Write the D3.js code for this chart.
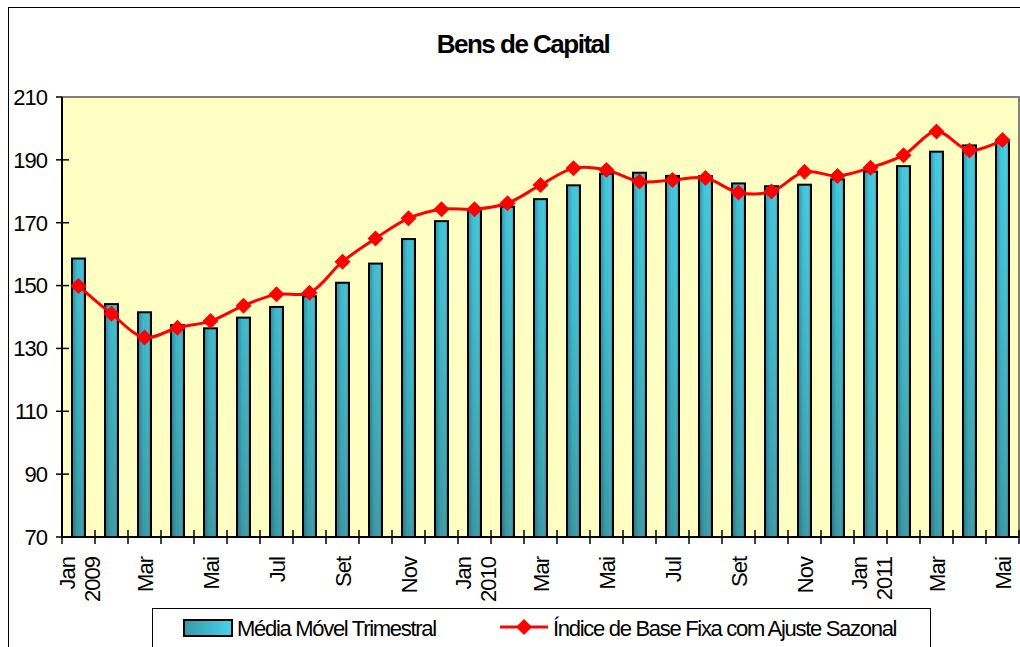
<!DOCTYPE html>
<html>
<head>
<meta charset="utf-8">
<script src="https://cdn.jsdelivr.net/npm/d3@7"></script>
<style>
  html, body { margin: 0; padding: 0; background: #ffffff; }
  svg { display: block; font-family: "Liberation Sans", Arial, sans-serif; }
</style>
</head>
<body>
<svg id="chart" width="1020" height="647"></svg>
<script>
const categories = ["Jan 2009","Fev","Mar","Abr","Mai","Jun","Jul","Ago","Set","Out","Nov","Dez",
                    "Jan 2010","Fev","Mar","Abr","Mai","Jun","Jul","Ago","Set","Out","Nov","Dez",
                    "Jan 2011","Fev","Mar","Abr","Mai"];
const mediaMovel = [158.6,144.1,141.5,137.4,136.4,139.8,143.2,146.6,150.9,157.0,164.8,170.5,
                    173.8,175.1,177.5,181.9,185.6,185.9,184.9,184.8,182.5,181.6,182.1,183.8,
                    186.3,188.0,192.6,194.6,196.3];
const indiceBase = [149.9,141.0,133.5,136.6,138.7,143.6,147.2,147.7,157.6,165.0,171.4,174.3,
                    174.3,176.2,182.0,187.3,186.8,183.1,183.6,184.2,179.6,179.9,186.2,184.9,
                    187.5,191.5,199.0,193.0,196.3];
const yTicks = [70,90,110,130,150,170,190,210];
const title = "Bens de Capital";
const seriesNames = ["Média Móvel Trimestral","Índice de Base Fixa com Ajuste Sazonal"];

const svg = d3.select("#chart");
const plot = {left: 62, right: 1019, top: 97, bottom: 537};

const defs = svg.append("defs");
const gv = defs.append("linearGradient").attr("id","barV")
  .attr("gradientUnits","userSpaceOnUse").attr("x1",0).attr("y1",plot.top).attr("x2",0).attr("y2",plot.bottom);
gv.append("stop").attr("offset","0%").attr("stop-color","#44d0e6");
gv.append("stop").attr("offset","45%").attr("stop-color","#40bccf");
gv.append("stop").attr("offset","100%").attr("stop-color","#3a9aa6");
const gh = defs.append("linearGradient").attr("id","barH").attr("x1",0).attr("y1",0).attr("x2",1).attr("y2",0);
gh.append("stop").attr("offset","0%").attr("stop-color","#000").attr("stop-opacity",0.22);
gh.append("stop").attr("offset","40%").attr("stop-color","#000").attr("stop-opacity",0);
gh.append("stop").attr("offset","75%").attr("stop-color","#fff").attr("stop-opacity",0.05);
gh.append("stop").attr("offset","100%").attr("stop-color","#000").attr("stop-opacity",0.15);
const gl = defs.append("linearGradient").attr("id","legSw").attr("x1",0).attr("y1",0).attr("x2",1).attr("y2",0);
gl.append("stop").attr("offset","0%").attr("stop-color","#3a98a6");
gl.append("stop").attr("offset","100%").attr("stop-color","#46d4ec");

// outer border
svg.append("rect").attr("x",8.5).attr("y",7.5).attr("width",1030).attr("height",660)
  .attr("fill","none").attr("stroke","#000").attr("stroke-width",1);

const x = d3.scaleBand().domain(d3.range(categories.length)).range([plot.left, plot.right]).padding(0);
const y = d3.scaleLinear().domain([70,210]).range([plot.bottom, plot.top]);

// plot background
svg.append("rect").attr("x",plot.left).attr("y",plot.top)
  .attr("width",plot.right-plot.left).attr("height",plot.bottom-plot.top)
  .attr("fill","#ffffc4").attr("stroke","#808080").attr("stroke-width",2);

// title
svg.append("text").attr("x",523).attr("y",53).attr("text-anchor","middle")
  .attr("font-size",26).attr("font-weight","bold").attr("letter-spacing","-1.5px")
  .attr("fill","#000").text(title);

// bars
const bw = 13;
const bars = svg.append("g");
bars.selectAll("rect.bar").data(mediaMovel).join("rect").attr("class","bar")
  .attr("x",(d,i)=>x(i)+x.bandwidth()/2-bw/2).attr("y",d=>y(d))
  .attr("width",bw).attr("height",d=>y(70)-y(d))
  .attr("fill","url(#barV)").attr("stroke","#000").attr("stroke-width",2);
bars.selectAll("rect.shade").data(mediaMovel).join("rect").attr("class","shade")
  .attr("x",(d,i)=>x(i)+x.bandwidth()/2-bw/2+1).attr("y",d=>y(d)+1)
  .attr("width",bw-2).attr("height",d=>y(70)-y(d)-2)
  .attr("fill","url(#barH)");

// axes lines
svg.append("line").attr("x1",plot.left).attr("x2",plot.left).attr("y1",plot.top).attr("y2",plot.bottom)
  .attr("stroke","#000").attr("stroke-width",2);
svg.append("line").attr("x1",plot.left).attr("x2",plot.right).attr("y1",plot.bottom).attr("y2",plot.bottom)
  .attr("stroke","#000").attr("stroke-width",2);

// y ticks & labels
const yg = svg.append("g");
yg.selectAll("line").data(yTicks).join("line")
  .attr("x1",56).attr("x2",d=> d===210 ? plot.left : 69).attr("y1",d=>y(d)).attr("y2",d=>y(d))
  .attr("stroke","#000").attr("stroke-width",1.5);
yg.selectAll("text").data(yTicks).join("text")
  .attr("x",47).attr("y",d=>y(d)).attr("dy","0.36em").attr("text-anchor","end")
  .attr("font-size",22).attr("letter-spacing","-1px").attr("fill","#000").text(d=>d);

// x ticks at category boundaries
const bounds = d3.range(categories.length+1).map(i => i < categories.length ? x(i) : plot.right);
svg.append("g").selectAll("line").data(bounds).join("line")
  .attr("x1",d=>d).attr("x2",d=>d).attr("y1",530).attr("y2",544)
  .attr("stroke","#000").attr("stroke-width",1.5);

// x labels (every other category)
const xl = svg.append("g");
categories.forEach((c,i) => {
  if (i % 2 !== 0) return;
  const cx = x(i) + x.bandwidth()/2;
  const parts = c.split(" ");
  const t = xl.append("text").attr("transform",`translate(${cx},557) rotate(-90)`)
    .attr("text-anchor","end").attr("font-size",22).attr("letter-spacing","-1px").attr("fill","#000");
  if (parts.length === 1) {
    t.append("tspan").attr("x",0).attr("y",8).text(parts[0]);
  } else {
    t.append("tspan").attr("x",0).attr("y",-4).text(parts[0]);
    t.append("tspan").attr("x",0).attr("y",21).text(parts[1]);
  }
});

// line
const line = d3.line().x((d,i)=>x(i)+x.bandwidth()/2).y(d=>y(d)).curve(d3.curveCatmullRom.alpha(0.5));
svg.append("path").datum(indiceBase).attr("d",line)
  .attr("fill","none").attr("stroke","#ff0000").attr("stroke-width",3);
const dsz = 8;
svg.append("g").selectAll("path").data(indiceBase).join("path")
  .attr("d",(d,i)=>{const cx=x(i)+x.bandwidth()/2, cy=y(d);
     return `M${cx},${cy-dsz}L${cx+dsz},${cy}L${cx},${cy+dsz}L${cx-dsz},${cy}Z`;})
  .attr("fill","#ff0000");

// legend
const lg = svg.append("g");
lg.append("rect").attr("x",152.5).attr("y",608.5).attr("width",778).attr("height",60)
  .attr("fill","#fff").attr("stroke","#000").attr("stroke-width",1);
lg.append("rect").attr("x",184).attr("y",620).attr("width",48).attr("height",16)
  .attr("fill","url(#legSw)").attr("stroke","#000").attr("stroke-width",2);
lg.append("text").attr("x",237).attr("y",636).attr("font-size",22).attr("letter-spacing","-1.3px")
  .attr("fill","#000").text(seriesNames[0]);
lg.append("line").attr("x1",500).attr("x2",548).attr("y1",627).attr("y2",627)
  .attr("stroke","#ff0000").attr("stroke-width",3);
lg.append("path").attr("d",`M524,${627-dsz}L${524+dsz},627L524,${627+dsz}L${524-dsz},627Z`).attr("fill","#ff0000");
lg.append("text").attr("x",553).attr("y",636).attr("font-size",22).attr("letter-spacing","-1.3px")
  .attr("fill","#000").text(seriesNames[1]);
</script>
</body>
</html>
